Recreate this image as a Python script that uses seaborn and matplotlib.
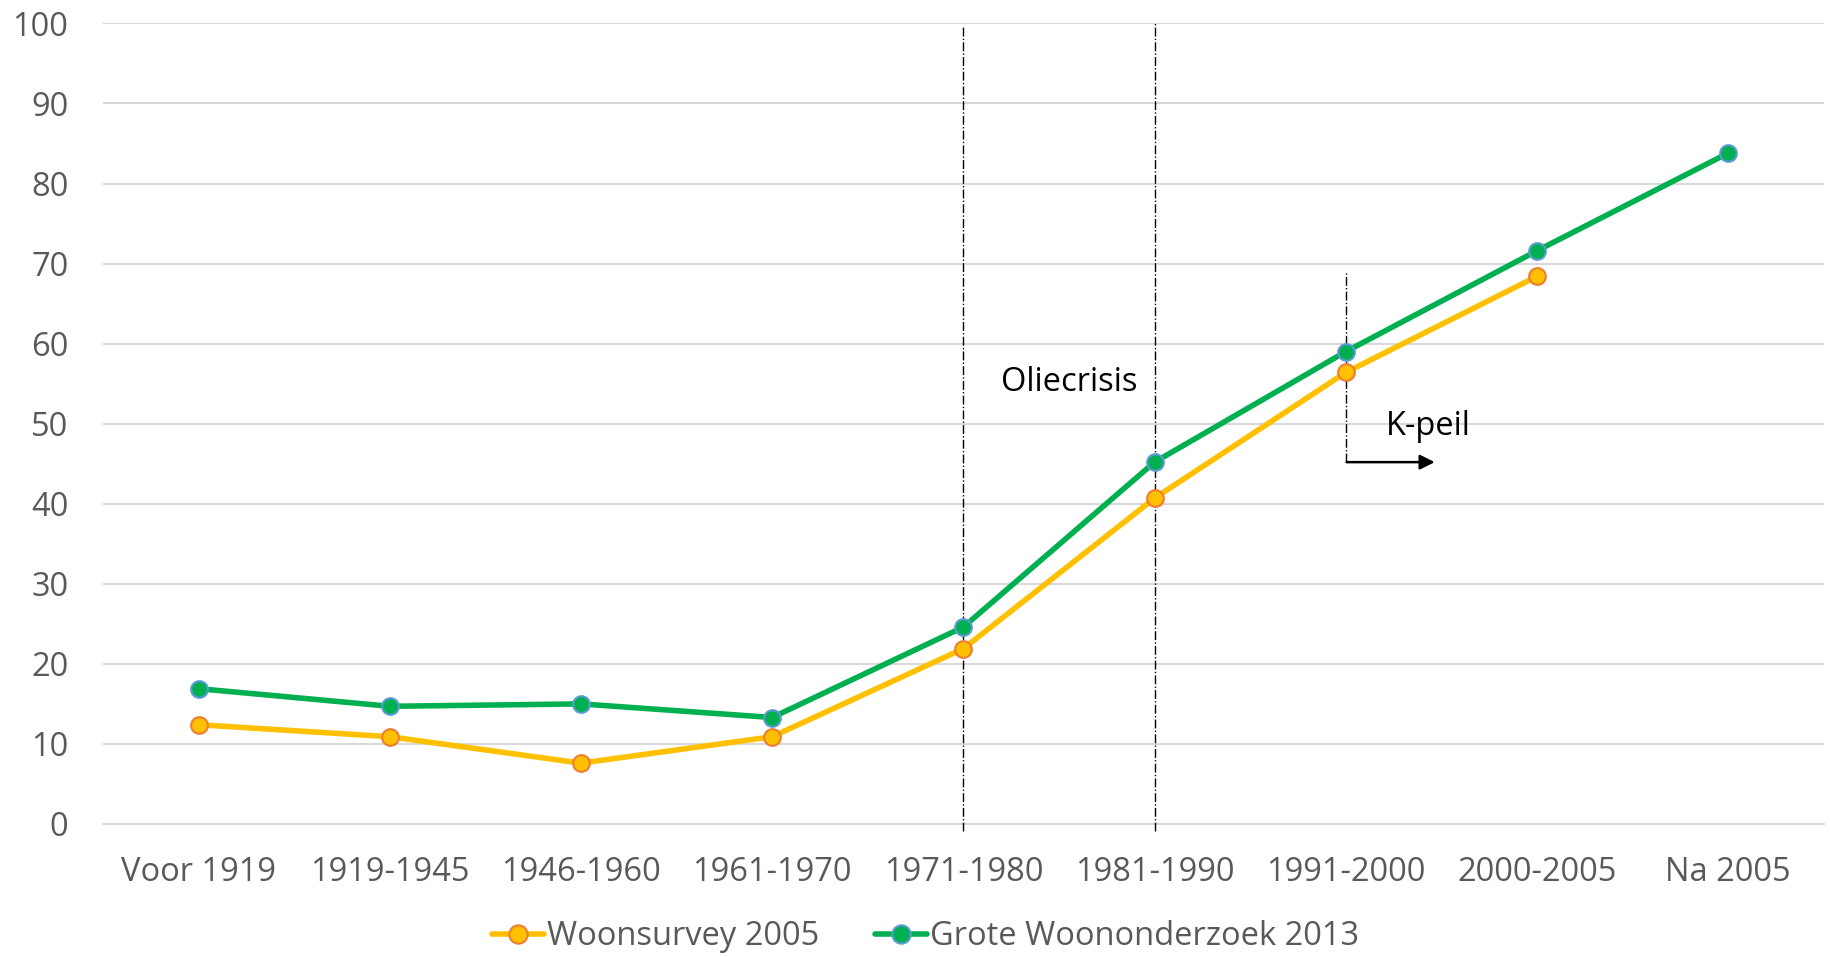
import numpy as np
import pandas as pd
import matplotlib
matplotlib.use("Agg")
import matplotlib.pyplot as plt
import seaborn as sns

# categorieen en reeksen
perioden = ["Voor 1919", "1919-1945", "1946-1960", "1961-1970", "1971-1980",
            "1981-1990", "1991-2000", "2000-2005", "Na 2005"]
woonsurvey_2005 = [12.4, 10.9, 7.6, 10.9, 21.9, 40.7, 56.4, 68.4, np.nan]
grote_woononderzoek_2013 = [16.9, 14.7, 15.0, 13.3, 24.6, 45.2, 59.0, 71.6, 83.8]
y_ticks = [0, 10, 20, 30, 40, 50, 60, 70, 80, 90, 100]

sns.set_style("white")
plt.rcParams["font.family"] = ["Open Sans", "DejaVu Sans"]
fs = 23.5

df_ws = pd.DataFrame({"periode": range(len(perioden)), "waarde": woonsurvey_2005}).dropna()
df_gw = pd.DataFrame({"periode": range(len(perioden)), "waarde": grote_woononderzoek_2013})

fig = plt.figure(figsize=(18.31, 9.57), dpi=100)
ax = fig.add_axes([0.0563, 0.139, 0.9397, 0.8365])

sns.lineplot(data=df_ws, x="periode", y="waarde", ax=ax, color="#FFC000", linewidth=4,
             marker="o", markersize=12, markeredgecolor="#ED7D31", markeredgewidth=1.5,
             label="Woonsurvey 2005", zorder=4)
sns.lineplot(data=df_gw, x="periode", y="waarde", ax=ax, color="#00B050", linewidth=4,
             marker="o", markersize=12, markeredgecolor="#5B9BD5", markeredgewidth=1.5,
             label="Grote Woononderzoek 2013", zorder=5)

ax.set_xlim(-0.5, len(perioden) - 0.5)
ax.set_ylim(0, 100)
ax.set_yticks(y_ticks)
ax.set_xticks(range(len(perioden)))
ax.set_xticklabels(perioden)
ax.set_xlabel("")
ax.set_ylabel("")
ax.grid(axis="y", color="#D9D9D9", linewidth=1.5)
ax.set_axisbelow(True)
for s in ["top", "right", "left"]:
    ax.spines[s].set_visible(False)
ax.spines["bottom"].set_color("#D9D9D9")
ax.spines["bottom"].set_linewidth(1.5)
ax.tick_params(axis="y", length=0, labelsize=fs, labelcolor="#595959", pad=25)
ax.tick_params(axis="x", length=6, width=1.5, color="#D9D9D9", labelsize=fs,
               labelcolor="#595959", pad=17, direction="out")

# verticale lijnen (oliecrisis en K-peil)
ax.plot([4, 4], [-0.9, 99.6], color="black", linestyle="-.", linewidth=1.0, clip_on=False, zorder=3)
ax.plot([5, 5], [-0.9, 100], color="black", linestyle="-.", linewidth=1.0, clip_on=False, zorder=3)
ax.plot([6, 6], [45.2, 69.0], color="black", linestyle="-.", linewidth=1.0, zorder=3)
ax.annotate("", xy=(6.48, 45.2), xytext=(5.99, 45.2),
            arrowprops=dict(arrowstyle="-|>", color="black", linewidth=1.8, mutation_scale=22))
ax.text(4.556, 55.2, "Oliecrisis", fontsize=fs, ha="center", va="center", color="black")
ax.text(6.43, 49.6, "K-peil", fontsize=fs, ha="center", va="center", color="black")

leg = ax.legend(loc="upper center", bbox_to_anchor=(0.478, -0.092), ncol=2, frameon=False,
                fontsize=fs, handlelength=1.6, handletextpad=0.1, columnspacing=1.7,
                markerscale=1.1, borderpad=0.2)
for t in leg.get_texts():
    t.set_color("#595959")

fig.savefig("out.png", dpi=100)
